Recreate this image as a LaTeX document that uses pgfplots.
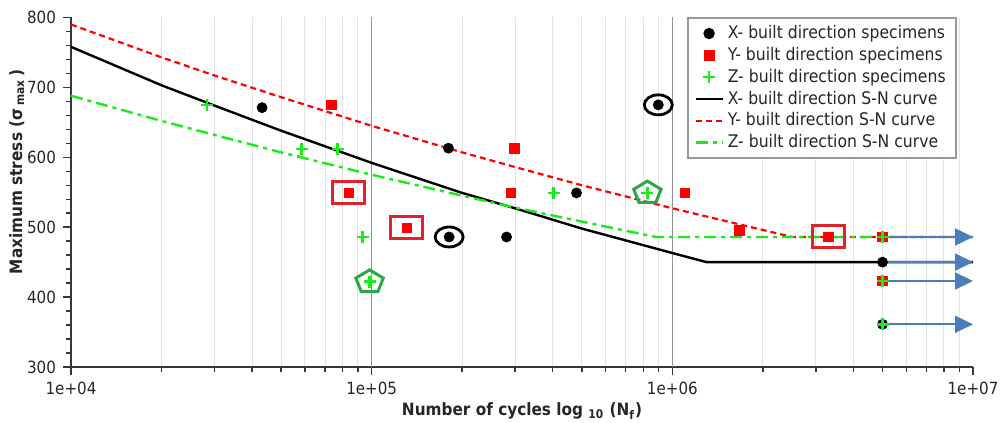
\documentclass[border=0pt]{standalone}
\usepackage{fontspec}
\setmainfont{DejaVu Sans Condensed}
\usepackage{pgfplots}
\pgfplotsset{compat=1.18}
\usetikzlibrary{arrows.meta,plotmarks}

\definecolor{ptred}{RGB}{255,0,0}
\definecolor{ptgreen}{RGB}{25,235,25}
\definecolor{boxred}{RGB}{228,32,42}
\definecolor{pentgreen}{RGB}{40,168,72}
\definecolor{runblue}{RGB}{74,126,187}
\definecolor{axgray}{RGB}{55,55,55}

\begin{document}
\begin{tikzpicture}
\begin{axis}[
  name=ax,
  scale only axis, width=451pt, height=174.75pt,
  xmode=log, xmin=1e4, xmax=1e7, ymin=300, ymax=800,
  clip=false,
  axis lines=left, axis line style={-, axgray, line width=1pt},
  xtick={1e4,1e5,1e6,1e7}, xticklabels={1e+04,1e+05,1e+06,1e+07},
  minor xtick={2e4,3e4,4e4,5e4,6e4,7e4,8e4,9e4,2e5,3e5,4e5,5e5,6e5,7e5,8e5,9e5,2e6,3e6,4e6,5e6,6e6,7e6,8e6,9e6},
  ytick={300,400,500,600,700,800}, minor y tick num=4,
  tick align=outside, major tick length=4pt, minor tick length=2.5pt,
  tick style={axgray, line width=0.7pt},
  xminorgrids=true, minor grid style={gray!22, line width=0.5pt},
  extra x ticks={1e5,1e6}, extra x tick labels={},
  extra x tick style={xmajorgrids=true, major grid style={gray!85, line width=0.7pt}},
  /pgf/number format/assume math mode=true,
  tick label style={font=\fontsize{8.4}{9}\selectfont, text=black!85},
  xlabel={Number of cycles log \textsubscript{\bfseries 10} (N\textsubscript{\bfseries f})},
  ylabel={Maximum stress (σ\,\textsubscript{\bfseries max}\,)},
  label style={font=\bfseries\fontsize{8.5}{9}\selectfont, text=black!85},
  xlabel style={at={(axis description cs:0.5,-0.126)}, anchor=center},
  ylabel style={at={(axis description cs:-0.060,0.558)}, anchor=center},
  legend cell align=left,
  legend image code/.code={\draw[mark repeat=2,mark phase=2,#1] plot coordinates {(0pt,0pt) (6.75pt,0pt) (13.5pt,0pt)};},
  legend style={at={(axis description cs:0.982,1.0)}, anchor=north east,
    draw=gray!80, line width=0.7pt, fill=white,
    font=\fontsize{8.7}{9}\selectfont, text=black!85, row sep=-1.2pt,
    inner xsep=3.2pt, inner ysep=1.6pt},
]
% specimens
\addplot[only marks, mark=*, mark size=2.5pt, black] coordinates {
  (43200,671) (180000,613) (281000,486) (480000,549) (181000,486) (898000,675)
  (5e6,450) (5e6,361)};
\addlegendentry{X- built direction specimens}
\addplot[only marks, mark=square*, mark size=2.4pt, ptred] coordinates {
  (73600,675) (84000,549) (131000,499) (299000,613) (290000,549) (1.10e6,549)
  (1.67e6,495) (3.30e6,486) (5e6,486) (5e6,423)};
\addlegendentry{Y- built direction specimens}
\addplot[only marks, mark=+, mark size=3pt, ptgreen, mark options={line width=1.3pt}] coordinates {
  (28300,675) (58500,612) (77100,612) (93300,486) (98400,422) (403000,549)
  (826000,549) (5e6,486) (5e6,423) (5e6,361)};
\addlegendentry{Z- built direction specimens}
% S-N curves
\addplot[black, line width=1.2pt] coordinates {
  (1e4,758) (2e4,703) (3e4,674) (5e4,638) (1e5,592) (2e5,549) (3e5,527)
  (5e5,498) (1e6,463) (1.3e6,450) (1e7,450)};
\addlegendentry{X- built direction S-N curve}
\addplot[ptred, line width=1.1pt, dash pattern=on 3pt off 2pt] coordinates {
  (1e4,790) (2e4,743) (3e4,717) (5e4,686) (1e5,645) (2e5,607) (3e5,586)
  (5e5,560) (1e6,527) (2.5e6,486) (1e7,486)};
\addlegendentry{Y- built direction S-N curve}
\addplot[ptgreen, line width=1.2pt, dash pattern=on 6pt off 2.5pt on 2pt off 2.5pt] coordinates {
  (1e4,688) (2e4,652) (3e4,632) (5e4,607) (1e5,575) (2e5,545) (3e5,528)
  (5e5,508) (8.8e5,486) (1e7,486)};
\addlegendentry{Z- built direction S-N curve}
% highlighted specimens
\addplot[only marks, forget plot, mark=square, mark size=5.5pt,
  mark options={xscale=1.45, draw=boxred, line width=1.5pt}] coordinates {
  (84000,549) (131000,499) (3.30e6,486)};
\addplot[only marks, forget plot, mark=o, mark size=5pt,
  mark options={xscale=1.4, draw=black, line width=1.4pt}] coordinates {
  (181000,486) (898000,675)};
\addplot[only marks, forget plot, mark=pentagon, mark size=7.2pt,
  mark options={yscale=0.82, draw=pentgreen, line width=1.5pt}] coordinates {
  (98400,422) (826000,549)};
% run-outs
\addplot[forget plot, runblue, line width=1pt, -{Triangle[length=9pt,width=8.5pt]}] coordinates {(5.1e6,486) (1e7,486)};
\addplot[forget plot, runblue, line width=1pt, -{Triangle[length=9pt,width=8.5pt]}] coordinates {(5.1e6,450) (1e7,450)};
\addplot[forget plot, runblue, line width=1pt, -{Triangle[length=9pt,width=8.5pt]}] coordinates {(5.1e6,423) (1e7,423)};
\addplot[forget plot, runblue, line width=1pt, -{Triangle[length=9pt,width=8.5pt]}] coordinates {(5.1e6,361) (1e7,361)};
\end{axis}
\pgfresetboundingbox
\path ([shift={(-35.5pt,-28pt)}]ax.south west) rectangle ([shift={(13.5pt,8.75pt)}]ax.north east);
\end{tikzpicture}
\end{document}
